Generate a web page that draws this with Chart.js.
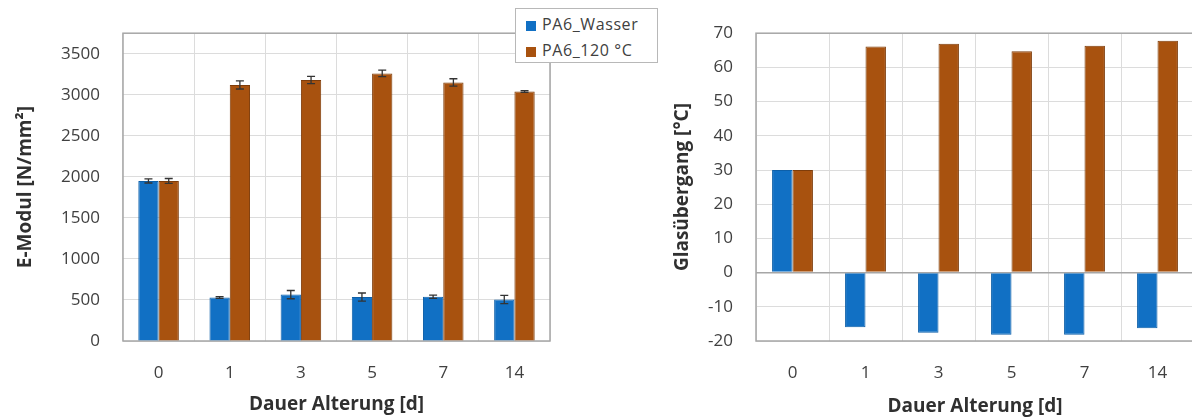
<!DOCTYPE html>
<html>
<head>
<meta charset="utf-8">
<script src="https://cdn.jsdelivr.net/npm/chart.js@4.4.1/dist/chart.umd.min.js"></script>
<style>
html, body { margin:0; padding:0; background:#fff; width:1192px; height:418px; overflow:hidden; }
.box { position:absolute; top:0; height:418px; }
#left { left:0; width:560px; }
#right { left:660px; width:540px; }
#legend { position:absolute; left:515px; top:8px; width:143px; height:55px; border:1px solid #b8b8b8; background:#fff;
  font-family:'Open Sans', sans-serif; font-size:16px; letter-spacing:0.6px; color:#404040; box-sizing:border-box; padding:2px 0 0 10px; }
#legend div { height:26px; line-height:26px; white-space:nowrap; }
#legend span { display:inline-block; width:10px; height:10px; margin-right:6px; vertical-align:-1px; }
</style>
</head>
<body>
<div class="box" id="left"><canvas id="modulChart" width="560" height="418"></canvas></div>
<div class="box" id="right"><canvas id="tgChart" width="540" height="418"></canvas></div>
<div id="legend">
  <div><span style="background:#1170c4"></span>PA6_Wasser</div>
  <div><span style="background:#a8520f"></span>PA6_120 °C</div>
</div>
<script>
var days = ['0', '1', '3', '5', '7', '14'];
var seriesNames = ['PA6_Wasser', 'PA6_120 °C'];

// E-Modul [N/mm²] with error bars
var modulWasser = [1950, 530, 565, 535, 540, 505];
var modulWasserErr = [25, 10, 50, 50, 20, 50];
var modul120 = [1950, 3120, 3180, 3260, 3150, 3040];
var modul120Err = [30, 50, 45, 40, 45, 10];
var modulTicks = [0, 500, 1000, 1500, 2000, 2500, 3000, 3500];

// Glasübergang [°C]
var tgWasser = [30, -16, -17.6, -18.2, -18.2, -16.3];
var tg120 = [30, 66.1, 66.9, 64.7, 66.3, 67.8];
var tgTicks = [-20, -10, 0, 10, 20, 30, 40, 50, 60, 70];

var blue = '#1170c4';
var brown = '#a8520f';
var tickFont = { family: 'Open Sans', size: 17 };
var titleFont = { family: 'Open Sans', size: 19, weight: 'bold' };

// plot frame like excel (all four sides)
var frame = {
    id: 'frame',
    beforeDatasetsDraw: function(chart) {
        var a = chart.chartArea, c = chart.ctx;
        c.save();
        c.strokeStyle = '#a6a6a6';
        c.lineWidth = 1.5;
        c.strokeRect(a.left, a.top, a.right - a.left, a.bottom - a.top);
        c.restore();
    }
};

// error bars from the errors arrays, through the y scale
var errorBars = {
    id: 'errorBars',
    afterDatasetsDraw: function(chart) {
        var c = chart.ctx, y = chart.scales.y;
        chart.data.datasets.forEach(function(ds, i) {
            if (!ds.errors) return;
            var meta = chart.getDatasetMeta(i);
            meta.data.forEach(function(bar, j) {
                var v = ds.data[j], e = ds.errors[j];
                var top = y.getPixelForValue(v + e), bot = y.getPixelForValue(v - e);
                c.save();
                c.strokeStyle = '#333';
                c.lineWidth = 1.3;
                c.beginPath();
                c.moveTo(bar.x, top); c.lineTo(bar.x, bot);
                c.moveTo(bar.x - 4, top); c.lineTo(bar.x + 4, top);
                c.moveTo(bar.x - 4, bot); c.lineTo(bar.x + 4, bot);
                c.stroke();
                c.restore();
            });
        });
    }
};

function xAxis(titlePad) {
    return {
        grid: { color: '#dcdcdc', drawTicks: false, offset: true },
        border: { display: false },
        ticks: { font: tickFont, color: '#404040', padding: 22 },
        title: { display: true, text: 'Dauer Alterung [d]', font: titleFont, color: '#303030', padding: { top: 0, bottom: titlePad } },
        afterFit: function(s) { s.height = 77; }
    };
}

function setTicks(list) {
    return function(s) { s.ticks = list.map(function(v) { return { value: v }; }); };
}

function plain(v) { return String(v); }

var modulChart = new Chart(document.getElementById('modulChart'), {
    type: 'bar',
    data: {
        labels: days,
        datasets: [
            { label: seriesNames[0], data: modulWasser, errors: modulWasserErr, backgroundColor: blue, borderColor: '#0d5fa8', borderWidth: 1 },
            { label: seriesNames[1], data: modul120, errors: modul120Err, backgroundColor: brown, borderColor: '#7e3c0a', borderWidth: 1 }
        ]
    },
    options: {
        responsive: false,
        animation: false,
        categoryPercentage: 0.57,
        barPercentage: 1.0,
        layout: { padding: { top: 15, right: 10, left: 0, bottom: 0 } },
        plugins: { legend: { display: false }, tooltip: { enabled: false } },
        scales: {
            x: xAxis(2),
            y: {
                min: 0, max: 3750,
                afterBuildTicks: setTicks(modulTicks),
                grid: { drawTicks: false, color: '#dcdcdc' },
                border: { display: false },
                ticks: { font: tickFont, color: '#404040', padding: 23, autoSkip: false, callback: plain },
                title: { display: true, text: 'E-Modul [N/mm²]', font: titleFont, color: '#303030', padding: { top: 14, bottom: 0 } },
                afterFit: function(s) { s.width = 123; }
            }
        }
    },
    plugins: [frame, errorBars]
});

var tgChart = new Chart(document.getElementById('tgChart'), {
    type: 'bar',
    data: {
        labels: days,
        datasets: [
            { label: seriesNames[0], data: tgWasser, backgroundColor: blue, borderColor: '#0d5fa8', borderWidth: 1 },
            { label: seriesNames[1], data: tg120, backgroundColor: brown, borderColor: '#7e3c0a', borderWidth: 1 }
        ]
    },
    options: {
        responsive: false,
        animation: false,
        categoryPercentage: 0.56,
        barPercentage: 1.0,
        layout: { padding: { top: 18, right: 6, left: 0, bottom: 0 } },
        plugins: { legend: { display: false }, tooltip: { enabled: false } },
        scales: {
            x: xAxis(0),
            y: {
                min: -20, max: 70,
                afterBuildTicks: setTicks(tgTicks),
                grid: {
                    drawTicks: false,
                    color: function(ctx) { return ctx.tick && ctx.tick.value === 0 ? '#a6a6a6' : '#dcdcdc'; },
                    lineWidth: function(ctx) { return ctx.tick && ctx.tick.value === 0 ? 1.5 : 1; }
                },
                border: { display: false },
                ticks: { font: tickFont, color: '#404040', padding: 23, autoSkip: false, callback: plain },
                title: { display: true, text: 'Glasübergang [°C]', font: titleFont, color: '#303030', padding: { top: 11, bottom: 0 } },
                afterFit: function(s) { s.width = 96; }
            }
        }
    },
    plugins: [frame]
});
</script>
</body>
</html>
